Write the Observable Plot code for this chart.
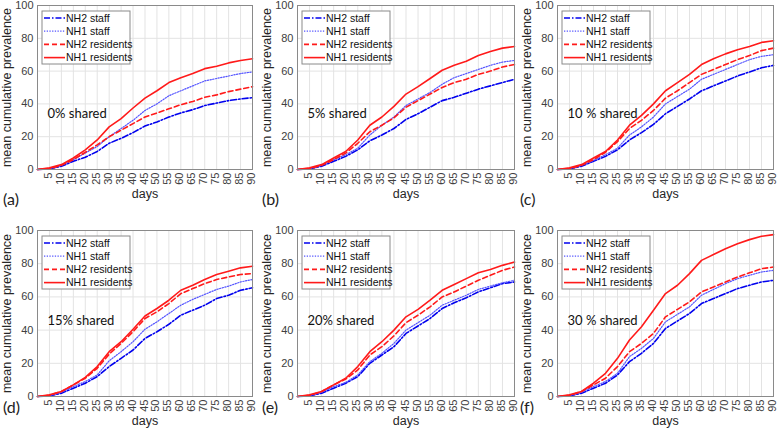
<!DOCTYPE html>
<html><head><meta charset="utf-8">
<script src="https://cdn.jsdelivr.net/npm/d3@7"></script>
<script src="https://cdn.jsdelivr.net/npm/@observablehq/plot@0.6"></script>
<style>
body{margin:0;background:#fff;}
#wrap{position:relative;width:778px;height:428px;overflow:hidden;background:#fff;}
.panel{position:absolute;}
.tag{position:absolute;font-family:Lato,"Open Sans",sans-serif;font-size:16px;color:#222;line-height:1;}
g[aria-label="x-axis label"] text, g[aria-label="y-axis label"] text{font-size:12.5px;fill:#262626;}
</style></head><body><div id="wrap"></div>
<script>
const days = [0,5,10,15,20,25,30,35,40,45,50,55,60,65,70,75,80,85,90];
const xTicks = [5,10,15,20,25,30,35,40,45,50,55,60,65,70,75,80,85,90];
const yTicks = [0,20,40,60,80,100];
const seriesNames = ["NH2 staff","NH1 staff","NH2 residents","NH1 residents"];
const panelTags = ["(a)","(b)","(c)","(d)","(e)","(f)"];
const shareLabels = ["0% shared","5% shared","10 % shared","15% shared","20% shared","30 % shared"];

// (a) 0% shared
const a_nh2Staff = [0,0.3,2,5,7.5,11,16,19,22.5,26.5,29,32,34.5,36.5,39,40.5,42,43,43.8];
const a_nh1Staff = [0,0.5,2.5,6,10,14,20,25,30,36,40,45,48,51,54,55.5,57,58.5,59.5];
const a_nh2Res   = [0,0.5,2.5,6,10.5,15,20,24,28,32,34.5,37,39.5,41.5,44,45.5,47.5,49,50.5];
const a_nh1Res   = [0,1,3,7,12,18,26,31,37.5,43.5,48,53,56,58.5,61.5,63,65,66.5,67.5];
// (b) 5% shared
const b_nh2Staff = [0,0.3,2,5,8,12,17.5,21,25,30.5,34,38,42,44,46.5,49,51,53,55];
const b_nh1Staff = [0,0.5,2.5,6,9,13,21,27,32,39,43,47,52,56,58.5,61,63.5,65.5,66.5];
const b_nh2Res   = [0,0.5,2.5,6,10,16,23,27,31.5,38,42,46,50,53,55,58,60,62.5,64];
const b_nh1Res   = [0,1,3,7,11,18,27,32,38.5,46,50.5,55.5,60.5,63.5,66,69.5,72,74,75];
// (c) 10% shared
const c_nh2Staff = [0,0.3,2,5,8,12,18,22.5,27.5,34,38.5,43,48,51,54,57,59.5,62,63.5];
const c_nh1Staff = [0,0.5,2.5,5.5,9,13,21,26,32,40,44.5,49,55,58,61,64,67,69,70];
const c_nh2Res   = [0,0.5,2.5,6,10.5,17,25,30,36,43.5,48,53,58,61,64,67,69.5,72.5,74];
const c_nh1Res   = [0,1,3,7,11,18,27,33,40,48,53,58,64,67.5,70.5,73,75,77.5,78.5];
// (d) 15% shared
const d_nh2Staff = [0,0.3,2,5,8,12,18,23,28,35,39,43.5,49,52,55,59,61,64,65.5];
const d_nh1Staff = [0,0.5,2.5,6,9,13,21.5,27,33,40.5,45,50,55,58.5,61.5,64.5,66.5,69,70.5];
const d_nh2Res   = [0,0.7,3,7,11,17,25.5,32,39,47,51,56,62,65,68,70.5,72,73.5,74];
const d_nh1Res   = [0,1,3,7,11.5,18,27,33,40.5,48.5,53,58,64,67,70.5,73.5,75.5,77.5,78.5];
// (e) 20% shared
const e_nh2Staff = [0,0.3,2,5,8,12,20,25,30,38,42.5,47,53,56.5,59.5,63,65.5,68,69];
const e_nh1Staff = [0,0.5,2.5,6,8.5,13,21,26,32,40,44.5,49,55,58,61,64.5,66.5,68.5,70];
const e_nh2Res   = [0,0.7,3,7,10.5,16,25,30,36.5,44.5,49,54,60,63,66.5,70,73,76,78];
const e_nh1Res   = [0,1,3,7,11,18,27,33,40,48,52.5,58,64,67.5,71,74.5,76.5,79,81];
// (f) 30% shared
const f_nh2Staff = [0,0.3,2,5,8,13,21,26,32,41,45.5,50,56,59,62,65,67,69,70];
const f_nh1Staff = [0,0.5,2.5,6,9,14,24,29,35,45,49.5,54,61,64.5,68,71,73,75,76];
const f_nh2Res   = [0,0.7,3,7,11,18,27,32,38,48,52.5,57,63,66,69,72,74.5,77,78];
const f_nh1Res   = [0,1,3,8,14,23,34,42,52,62,67,74,82,85.5,89,92,94.5,96.5,97.5];

const panelData = [
  [a_nh2Staff,a_nh1Staff,a_nh2Res,a_nh1Res],
  [b_nh2Staff,b_nh1Staff,b_nh2Res,b_nh1Res],
  [c_nh2Staff,c_nh1Staff,c_nh2Res,c_nh1Res],
  [d_nh2Staff,d_nh1Staff,d_nh2Res,d_nh1Res],
  [e_nh2Staff,e_nh1Staff,e_nh2Res,e_nh1Res],
  [f_nh2Staff,f_nh1Staff,f_nh2Res,f_nh1Res]
];

const styles = [
  {stroke:"#0000ee", strokeWidth:1.6, strokeDasharray:"6,2,1.5,2"},
  {stroke:"#5555ff", strokeWidth:1.2, strokeDasharray:"1.3,1.4"},
  {stroke:"#ff1a1a", strokeWidth:1.6, strokeDasharray:"5,3"},
  {stroke:"#ff1a1a", strokeWidth:1.6, strokeDasharray:"none"}
];

const colLeft = [0,260,520];
const colWidth = [260,260,258];
const colMarginRight = [8,6,5];
const rowTop = [0,214];
const rowMarginTop = [5,16];
const rowMarginBottom = [45,32];
const rowLabelOffset = [28,28];
const rowTagTop = [191,399];
const tagLeft = [3,262,520];
const shareDy = [108,90];

const wrap = document.getElementById("wrap");

panelData.forEach((series, i) => {
  const r = Math.floor(i/3), c = i%3;
  const rows = days.flatMap((d,k) => series.map((s,j) => ({day:d, value:s[k], series:seriesNames[j]})));
  const mt = rowMarginTop[r], ml = 37;
  const svg = Plot.plot({
    width: colWidth[c], height: 214,
    marginLeft: ml, marginRight: colMarginRight[c], marginTop: mt, marginBottom: rowMarginBottom[r],
    style: {fontFamily:"'Liberation Sans', Arial, sans-serif", fontSize:"11px", color:"#404040", background:"transparent"},
    x: {domain:[0,90]},
    y: {domain:[0,100]},
    marks: [
      Plot.gridX(xTicks, {stroke:"#e3e3e3", strokeOpacity:1}),
      Plot.gridY(yTicks, {stroke:"#e3e3e3", strokeOpacity:1}),
      ...seriesNames.map((name,j) => Plot.line(rows.filter(d => d.series===name), {x:"day", y:"value", ...styles[j], strokeLinejoin:"round"})),
      Plot.frame({stroke:"#8a8a8a"}),
      Plot.axisX({ticks:xTicks, tickRotate:-90, tickSize:0, tickPadding:3, dx:-1, label:"days", labelAnchor:"center", labelOffset:rowLabelOffset[r], labelArrow:false}),
      Plot.axisY({ticks:yTicks, tickSize:0, tickPadding:4, label:"mean cumulative prevalence", labelAnchor:"center", labelOffset:35, labelArrow:false}),
      Plot.text([shareLabels[i]], {frameAnchor:"top-left", dx:10, dy:shareDy[r], text:d=>d, textAnchor:"start", lineAnchor:"middle", fontSize:13, fontFamily:"Lato, 'Open Sans', sans-serif", fill:"#111"})
    ]
  });
  // legend
  const g = d3.select(svg).append("g").attr("transform", `translate(${ml+5},${mt+6})`);
  g.append("rect").attr("width",88).attr("height",53).attr("fill","#fff").attr("stroke","#8a8a8a").attr("stroke-width",1);
  seriesNames.forEach((name,j) => {
    const y = 7 + j*13.2;
    const st = styles[j];
    g.append("line").attr("x1",2).attr("x2",23).attr("y1",y).attr("y2",y)
      .attr("stroke",st.stroke).attr("stroke-width",st.strokeWidth)
      .attr("stroke-dasharray",st.strokeDasharray);
    g.append("text").attr("x",24).attr("y",y).attr("dy","0.35em")
      .attr("text-anchor","start")
      .attr("font-size",10.5).attr("fill","#111")
      .attr("font-family","'Liberation Sans', Arial, sans-serif").text(name);
  });
  const div = document.createElement("div");
  div.className = "panel";
  div.style.left = colLeft[c]+"px";
  div.style.top = rowTop[r]+"px";
  div.appendChild(svg);
  wrap.appendChild(div);
  const tag = document.createElement("div");
  tag.className = "tag";
  tag.style.left = tagLeft[c]+"px";
  tag.style.top = rowTagTop[r]+"px";
  tag.textContent = panelTags[i];
  wrap.appendChild(tag);
});
</script></body></html>
